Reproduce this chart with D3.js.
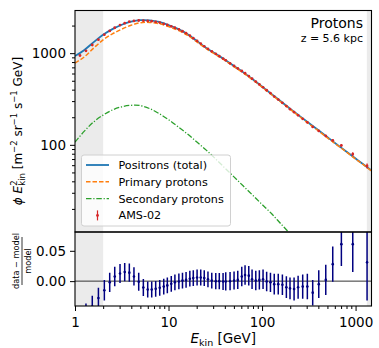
<!DOCTYPE html>
<html>
<head>
<meta charset="utf-8">
<script src="https://cdn.jsdelivr.net/npm/d3@7"></script>
<style>
  body { margin: 0; background: #fff; }
  text { font-family: "DejaVu Sans", sans-serif; }
</style>
</head>
<body>
<div id="chart"></div>
<script>
// model curves, sampled every 0.1 decade in E_kin [GeV]
const gridE = [1, 1.259, 1.585, 1.995, 2.512, 3.162, 3.981, 5.012, 6.310, 7.943,
    10, 12.59, 15.85, 19.95, 25.12, 31.62, 39.81, 50.12, 63.10, 79.43,
    100, 125.9, 158.5, 199.5, 251.2, 316.2, 398.1, 501.2, 631.0, 794.3,
    1000, 1259, 1500];
const totalFlux = [933, 1084, 1318, 1585, 1828, 2042, 2203, 2291, 2280, 2188,
    2028, 1841, 1622, 1365, 1148, 989, 851, 724, 617, 519,
    432, 359, 299, 248, 207, 173, 145, 121, 101, 84.7,
    70.8, 59.6, 51.9];
const primaryFlux = [778, 912, 1135, 1396, 1622, 1828, 2018, 2148, 2163, 2099,
    1950, 1778, 1578, 1334, 1125, 971, 837, 713, 608, 512,
    426, 354, 294, 245, 204, 170, 143, 119, 100, 83.8,
    70.0, 58.9, 51.3];
const secondaryFlux = [107, 141, 178, 211, 240, 260, 270, 268, 248, 219,
    188, 158, 132, 108, 88.1, 70.8, 56.2, 44.7, 35.5, 28.2,
    22.4, 17.8, 13.8, 10.7, 8.3, 6.5];

// AMS-02 points
const amsE = [1.13, 1.31, 1.53, 1.78, 2.06, 2.35, 2.66, 3.03, 3.40, 3.81,
    4.27, 4.80, 5.38, 5.99, 6.61, 7.29, 8.05, 8.89, 9.71, 10.7,
    11.7, 12.9, 14.1, 15.4, 16.9, 18.4, 20.2, 22.1, 24.1, 26.4,
    29.0, 32.0, 34.9, 38.3, 40.9, 45.5, 50.2, 55.0, 60.7, 65.8,
    72.1, 78.2, 85.7, 93.6, 102.5, 112, 123, 135, 149, 165,
    182, 199, 220, 243, 272, 305, 348, 404, 480, 570,
    705, 933, 1327];
const amsFlux = [943, 1060, 1227, 1402, 1591, 1750, 1893, 2025, 2124, 2203,
    2247, 2272, 2264, 2250, 2231, 2194, 2154, 2089, 2033, 1959,
    1893, 1819, 1735, 1651, 1555, 1456, 1361, 1273, 1188, 1115,
    1048, 981, 927, 873, 835, 774, 724, 680, 639, 604,
    563, 527, 489, 456, 424, 394, 366, 336, 312, 287,
    265, 245, 227, 210, 192, 176, 157, 142, 125, 112,
    98.6, 79.2, 58.9];
const amsFluxErr = [19, 19, 22, 24, 27, 28, 30, 31, 32, 33,
    34, 34, 32, 29, 29, 29, 28, 27, 26, 25,
    25, 24, 23, 21, 20, 19, 18, 17, 15, 14.5,
    13.6, 13.2, 12.5, 12.2, 12.5, 11.6, 10.9, 10.2, 10.2, 9.7,
    9.0, 8.4, 7.8, 7.3, 6.8, 6.3, 5.9, 5.7, 5.3, 4.9,
    4.8, 4.4, 4.3, 4.0, 3.8, 3.7, 3.3, 3.3, 3.1, 3.2,
    3.5, 3.6, 3.7];
const amsRes = [-0.065, -0.055, -0.042, -0.028, -0.015, -0.002, 0.0077, 0.0126, 0.015, 0.014,
    0.0077, -0.001, -0.0105, -0.0138, -0.0138, -0.0127, -0.011, -0.009, -0.007, -0.0045,
    -0.002, -0.0005, 0.001, 0.002, 0.004, 0.005, 0.006, 0.006, 0.005, 0.003,
    0.001, 0, 0, -0.0005, -0.0005, 0, 0.001, 0.002, 0.0077, 0.010,
    0.009, 0.003, 0.001, 0.002, 0.003, -0.0005, -0.002, -0.005, -0.005, -0.006,
    -0.010, -0.012, -0.013, -0.010, -0.009, -0.009, -0.019, -0.005, 0.002, 0.028,
    0.061, 0.061, 0.031];
const amsResErr = [0.020, 0.018, 0.018, 0.017, 0.017, 0.016, 0.016, 0.0155, 0.015, 0.015,
    0.015, 0.015, 0.014, 0.013, 0.013, 0.013, 0.013, 0.013, 0.013, 0.013,
    0.013, 0.013, 0.013, 0.013, 0.013, 0.013, 0.013, 0.013, 0.013, 0.013,
    0.013, 0.0135, 0.0135, 0.014, 0.015, 0.015, 0.015, 0.015, 0.016, 0.016,
    0.016, 0.016, 0.016, 0.016, 0.016, 0.016, 0.016, 0.017, 0.017, 0.017,
    0.018, 0.018, 0.019, 0.019, 0.020, 0.021, 0.021, 0.023, 0.025, 0.029,
    0.036, 0.046, 0.063];

// shaded energy ranges and ticks
const shadeRanges = [[1, 2], [1320, 1480]];
const xMajor = [1, 10, 100, 1000];
const xMinor = [2, 3, 4, 5, 6, 7, 8, 9, 20, 30, 40, 50, 60, 70, 80, 90, 200, 300, 400, 500, 600, 700, 800, 900];
const yMajor = [100, 1000];
const yMinor = [20, 30, 40, 50, 60, 70, 80, 90, 200, 300, 400, 500, 600, 700, 800, 900, 2000];
const resTicks = [0, 0.05];

const W = 379, H = 348;
const pLeft = 75, pRight = 371.5, pTop = 10.5, pMid = 232, pBottom = 306;

const x = d3.scaleLog().domain([1, 1480]).range([pLeft, pRight]);
const y = d3.scaleLog().domain([11.2, 2920]).range([pMid, pTop]);
const yr = d3.scaleLinear().domain([-0.041, 0.081]).range([pBottom, pMid]);

const svg = d3.select("#chart")
    .append("svg")
    .attr("width", W)
    .attr("height", H);

const defs = svg.append("defs");
defs.append("clipPath").attr("id", "clipMain")
    .append("rect").attr("x", pLeft).attr("y", pTop).attr("width", pRight - pLeft).attr("height", pMid - pTop);
defs.append("clipPath").attr("id", "clipRes")
    .append("rect").attr("x", pLeft).attr("y", pMid).attr("width", pRight - pLeft).attr("height", pBottom - pMid);

// gray shaded regions in both panels
[[pTop, pMid], [pMid, pBottom]].forEach(([y0, y1]) => {
    svg.selectAll(null)
        .data(shadeRanges)
        .enter().append("rect")
        .attr("x", d => x(d[0]))
        .attr("width", d => x(d[1]) - x(d[0]))
        .attr("y", y0)
        .attr("height", y1 - y0)
        .attr("fill", "#ebebeb");
});

// main panel curves
const main = svg.append("g").attr("clip-path", "url(#clipMain)");
const line = d3.line()
    .x((d, i) => x(gridE[i]))
    .y(d => y(d))
    .curve(d3.curveCatmullRom);

main.append("path").attr("d", line(totalFlux))
    .attr("fill", "none").attr("stroke", "#1f77b4").attr("stroke-width", 1.8);
main.append("path").attr("d", line(primaryFlux))
    .attr("fill", "none").attr("stroke", "#ff7f0e").attr("stroke-width", 1.5)
    .attr("stroke-dasharray", "4.5,2");
main.append("path").attr("d", line(secondaryFlux))
    .attr("fill", "none").attr("stroke", "#2ca02c").attr("stroke-width", 1.3)
    .attr("stroke-dasharray", "5.5,1.8,1.2,1.8");

// AMS-02 data
const ams = amsE.map((e, i) => ({ e, f: amsFlux[i], fe: amsFluxErr[i], r: amsRes[i], re: amsResErr[i] }));
main.selectAll(".ams-err")
    .data(ams)
    .enter().append("line")
    .attr("x1", d => x(d.e)).attr("x2", d => x(d.e))
    .attr("y1", d => y(d.f - d.fe)).attr("y2", d => y(d.f + d.fe))
    .attr("stroke", "#d62728").attr("stroke-width", 1.2);
main.selectAll(".ams-pt")
    .data(ams)
    .enter().append("circle")
    .attr("cx", d => x(d.e)).attr("cy", d => y(d.f))
    .attr("r", 1.4).attr("fill", "#d62728");

// residual panel
const res = svg.append("g").attr("clip-path", "url(#clipRes)");
res.append("line")
    .attr("x1", pLeft).attr("x2", pRight)
    .attr("y1", yr(0)).attr("y2", yr(0))
    .attr("stroke", "#333").attr("stroke-width", 1);
res.selectAll(".res-err")
    .data(ams)
    .enter().append("line")
    .attr("x1", d => x(d.e)).attr("x2", d => x(d.e))
    .attr("y1", d => yr(d.r - d.re)).attr("y2", d => yr(d.r + d.re))
    .attr("stroke", "navy").attr("stroke-width", 1.5);
res.selectAll(".res-pt")
    .data(ams)
    .enter().append("circle")
    .attr("cx", d => x(d.e)).attr("cy", d => yr(d.r))
    .attr("r", 1.3).attr("fill", "navy");

// frames
svg.append("rect").attr("x", pLeft).attr("y", pTop).attr("width", pRight - pLeft).attr("height", pMid - pTop)
    .attr("fill", "none").attr("stroke", "#000").attr("stroke-width", 1.1);
svg.append("rect").attr("x", pLeft).attr("y", pMid).attr("width", pRight - pLeft).attr("height", pBottom - pMid)
    .attr("fill", "none").attr("stroke", "#000").attr("stroke-width", 1.1);

// axes
function styleAxis(g) {
    g.select(".domain").remove();
    g.selectAll("text").attr("font-family", "DejaVu Sans").attr("font-size", 13.5).attr("fill", "#000");
    g.selectAll("line").attr("stroke", "#000");
}
svg.append("g").attr("transform", `translate(${pLeft},0)`)
    .call(d3.axisLeft(y).tickValues(yMajor).tickFormat(d3.format("d")).tickSize(5).tickPadding(4))
    .call(styleAxis);
svg.append("g").attr("transform", `translate(${pLeft},0)`)
    .call(d3.axisLeft(y).tickValues(yMinor).tickFormat("").tickSize(3))
    .call(styleAxis);
svg.append("g").attr("transform", `translate(${pLeft},0)`)
    .call(d3.axisLeft(yr).tickValues(resTicks).tickFormat(d3.format(".2f")).tickSize(5).tickPadding(4))
    .call(styleAxis);
svg.append("g").attr("transform", `translate(0,${pBottom})`)
    .call(d3.axisBottom(x).tickValues(xMajor).tickFormat(d3.format("d")).tickSize(5).tickPadding(6))
    .call(styleAxis);
svg.append("g").attr("transform", `translate(0,${pBottom})`)
    .call(d3.axisBottom(x).tickValues(xMinor).tickFormat("").tickSize(3))
    .call(styleAxis);

// x label
const xl = svg.append("text")
    .attr("x", (pLeft + pRight) / 2).attr("y", 343)
    .attr("text-anchor", "middle").attr("font-size", 13.5);
xl.append("tspan").attr("font-style", "italic").text("E");
xl.append("tspan").attr("font-size", 9.5).attr("dy", 3).text("kin");
xl.append("tspan").attr("dy", -3).text(" [GeV]");

// y label (main)
const yl = svg.append("text")
    .attr("transform", "translate(22,131) rotate(-90)")
    .attr("text-anchor", "middle").attr("font-size", 12);
yl.append("tspan").attr("font-style", "italic").text("ϕ E");
yl.append("tspan").attr("font-size", 8.5).attr("dy", -5).text("2");
yl.append("tspan").attr("font-size", 8.5).attr("dx", -5.4).attr("dy", 8).text("kin");
yl.append("tspan").attr("dy", -3).text("  [m");
yl.append("tspan").attr("font-size", 8.5).attr("dy", -5).text("−2");
yl.append("tspan").attr("dy", 5).text(" sr");
yl.append("tspan").attr("font-size", 8.5).attr("dy", -5).text("−1");
yl.append("tspan").attr("dy", 5).text(" s");
yl.append("tspan").attr("font-size", 8.5).attr("dy", -5).text("−1");
yl.append("tspan").attr("dy", 5).text(" GeV]");

// y label (residual): fraction
const fr = svg.append("g").attr("transform", "translate(22,261) rotate(-90)");
fr.append("text").attr("x", 0).attr("y", -2.8).attr("text-anchor", "middle")
    .attr("font-size", 8.2).text("data − model");
fr.append("line").attr("x1", -24).attr("x2", 24).attr("y1", 0).attr("y2", 0)
    .attr("stroke", "#000").attr("stroke-width", 0.8);
fr.append("text").attr("x", 0).attr("y", 9).attr("text-anchor", "middle")
    .attr("font-size", 8.2).text("model");

// title
svg.append("text").attr("x", 363).attr("y", 28).attr("text-anchor", "end")
    .attr("font-size", 14).text("Protons");
svg.append("text").attr("x", 363).attr("y", 42).attr("text-anchor", "end")
    .attr("font-size", 11).text("z = 5.6 kpc");

// legend
const legendItems = [
    { label: "Positrons (total)", color: "#1f77b4", dash: null, w: 1.8 },
    { label: "Primary protons", color: "#ff7f0e", dash: "4.5,2", w: 1.5 },
    { label: "Secondary protons", color: "#2ca02c", dash: "5.5,1.8,1.2,1.8", w: 1.3 },
    { label: "AMS-02", color: "#d62728", marker: true }
];
const lg = svg.append("g");
lg.append("rect").attr("x", 81.5).attr("y", 155).attr("width", 149).attr("height", 71)
    .attr("rx", 2.5).attr("fill", "#fff").attr("fill-opacity", 0.8)
    .attr("stroke", "#d0d0d0").attr("stroke-width", 1);
legendItems.forEach((d, i) => {
    const yy = 165 + i * 16.8;
    if (d.marker) {
        lg.append("line").attr("x1", 97.5).attr("x2", 97.5).attr("y1", yy - 5).attr("y2", yy + 5)
            .attr("stroke", d.color).attr("stroke-width", 1.2);
        lg.append("circle").attr("cx", 97.5).attr("cy", yy).attr("r", 1.4).attr("fill", d.color);
    } else {
        lg.append("line").attr("x1", 86).attr("x2", 109).attr("y1", yy).attr("y2", yy)
            .attr("stroke", d.color).attr("stroke-width", d.w)
            .attr("stroke-dasharray", d.dash);
    }
    lg.append("text").attr("x", 118.5).attr("y", yy).attr("dy", "0.35em")
        .attr("font-size", 11.2).text(d.label);
});
</script>
</body>
</html>
